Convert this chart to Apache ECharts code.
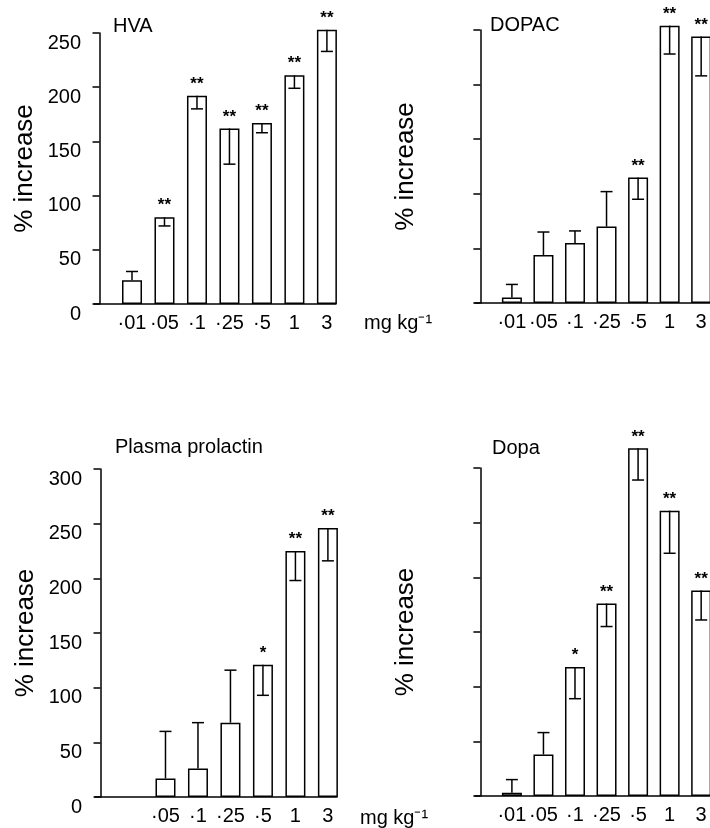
<!DOCTYPE html>
<html>
<head>
<meta charset="utf-8">
<title>% increase</title>
<script src="https://cdn.jsdelivr.net/npm/echarts@6/dist/echarts.min.js"></script>
<style>
  html, body { margin: 0; padding: 0; background: #fff; }
  #chart { width: 710px; height: 828px; }
</style>
</head>
<body>
<div id="chart"></div>
<script>
// dose labels (mg kg-1)
var doses = ['\u00b701', '\u00b705', '\u00b71', '\u00b725', '\u00b75', '1', '3'];
var prlDoses = ['', '\u00b705', '\u00b71', '\u00b725', '\u00b75', '1', '3'];

// HVA
var hvaMean = [22, 80, 192, 162, 167, 211, 253];
var hvaErr = [30, 72, 180, 129, 158, 199, 233];
var hvaStars = ['', '**', '**', '**', '**', '**', '**'];

// DOPAC
var dopacMean = [5, 44, 55, 70, 115, 254, 244];
var dopacErr = [17, 65, 66, 102, 95, 228, 208];
var dopacStars = ['', '', '', '', '**', '**', '**'];

// Plasma prolactin
var prlMean = [null, 17, 26, 68, 121, 225, 246];
var prlErr = [null, 60, 68, 116, 93, 198, 216];
var prlStars = ['', '', '', '', '*', '**', '**'];

// Dopa
var dopaMean = [3, 38, 118, 176, 318, 261, 188];
var dopaErr = [15, 58, 89, 155, 289, 222, 161];
var dopaStars = ['', '', '*', '**', '**', '**', '**'];

var yTicks = [[0, 250, 50], [0, 250, 50], [0, 300, 50], [0, 300, 50]];

var font = 'Liberation Sans, Arial, sans-serif';

var panels = [
    { mean: hvaMean, err: hvaErr, stars: hvaStars, labels: doses, showY: true },
    { mean: dopacMean, err: dopacErr, stars: dopacStars, labels: doses, showY: false },
    { mean: prlMean, err: prlErr, stars: prlStars, labels: prlDoses, showY: true },
    { mean: dopaMean, err: dopaErr, stars: dopaStars, labels: doses, showY: false }
];

var grids = [
    { left: 94, top: 33, width: 242, height: 271 },
    { left: 475, top: 30, width: 242, height: 273 },
    { left: 95, top: 469, width: 242, height: 328 },
    { left: 475, top: 468, width: 242, height: 328 }
];

var xAxes = [], yAxes = [], series = [];

panels.forEach(function (p, i) {
    var labels = p.labels;
    xAxes.push({
        type: 'value',
        gridIndex: i,
        min: -0.17,
        max: 7.28,
        splitLine: { show: false },
        axisLine: { lineStyle: { color: '#000', width: 1.5 } },
        axisTick: { show: false },
        axisLabel: {
            customValues: [1, 2, 3, 4, 5, 6, 7],
            formatter: function (v) { return labels[Math.round(v) - 1] || ''; },
            color: '#000',
            fontFamily: font,
            fontSize: 20,
            margin: 9
        }
    });
    yAxes.push({
        type: 'value',
        gridIndex: i,
        min: yTicks[i][0],
        max: yTicks[i][1],
        interval: yTicks[i][2],
        name: '% increase',
        nameLocation: 'middle',
        nameRotate: 90,
        nameGap: 56,
        nameTextStyle: { color: '#000', fontFamily: font, fontSize: 26 },
        splitLine: { show: false },
        axisLine: { show: true, lineStyle: { color: '#000', width: 1.5 } },
        axisTick: { show: true, length: 7, lineStyle: { color: '#000', width: 1.5 } },
        axisLabel: {
            show: p.showY,
            color: '#000',
            fontFamily: font,
            fontSize: 20,
            margin: 13,
            verticalAlign: 'top'
        }
    });

    var barData = [], errData = [];
    p.mean.forEach(function (m, j) {
        if (m == null) return;
        barData.push({ value: [j + 1, m], star: p.stars[j] });
        errData.push([j + 1, m, p.err[j]]);
    });

    // 柱子
    series.push({
        type: 'bar',
        xAxisIndex: i,
        yAxisIndex: i,
        barWidth: 20,
        clip: false,
        data: barData,
        itemStyle: { color: '#fff', borderColor: '#000', borderWidth: 1.5 },
        label: {
            show: true,
            position: 'top',
            distance: 3,
            color: '#000',
            fontFamily: font,
            fontSize: 17,
            fontWeight: 'bold',
            formatter: function (d) { return d.data.star; }
        }
    });
    // 误差线
    series.push({
        type: 'custom',
        xAxisIndex: i,
        yAxisIndex: i,
        clip: false,
        data: errData,
        z: 3,
        renderItem: function (params, api) {
            var x = api.value(0);
            var a = api.coord([x, api.value(1)]);
            var b = api.coord([x, api.value(2)]);
            var st = { stroke: '#000', lineWidth: 1.5 };
            return {
                type: 'group',
                children: [
                    { type: 'line', shape: { x1: a[0], y1: a[1], x2: b[0], y2: b[1] }, style: st },
                    { type: 'line', shape: { x1: b[0] - 6, y1: b[1], x2: b[0] + 6, y2: b[1] }, style: st }
                ]
            };
        }
    });
});

function txt(t, left, top, size) {
    return {
        text: t, left: left, top: top, padding: 0,
        textStyle: { color: '#000', fontFamily: font, fontSize: size, fontWeight: 'normal' }
    };
}

var myChart = echarts.init(document.getElementById('chart'));
myChart.setOption({
    animation: false,
    backgroundColor: '#fff',
    title: [
        txt('HVA', 113, 16, 20),
        txt('DOPAC', 490, 15, 20),
        txt('Plasma prolactin', 115, 437, 20),
        txt('Dopa', 492, 438, 20),
        txt('mg kg\u207b\u00b9', 364, 313, 20),
        txt('mg kg\u207b\u00b9', 360, 808, 20)
    ],
    grid: grids,
    xAxis: xAxes,
    yAxis: yAxes,
    series: series
});
</script>
</body>
</html>
